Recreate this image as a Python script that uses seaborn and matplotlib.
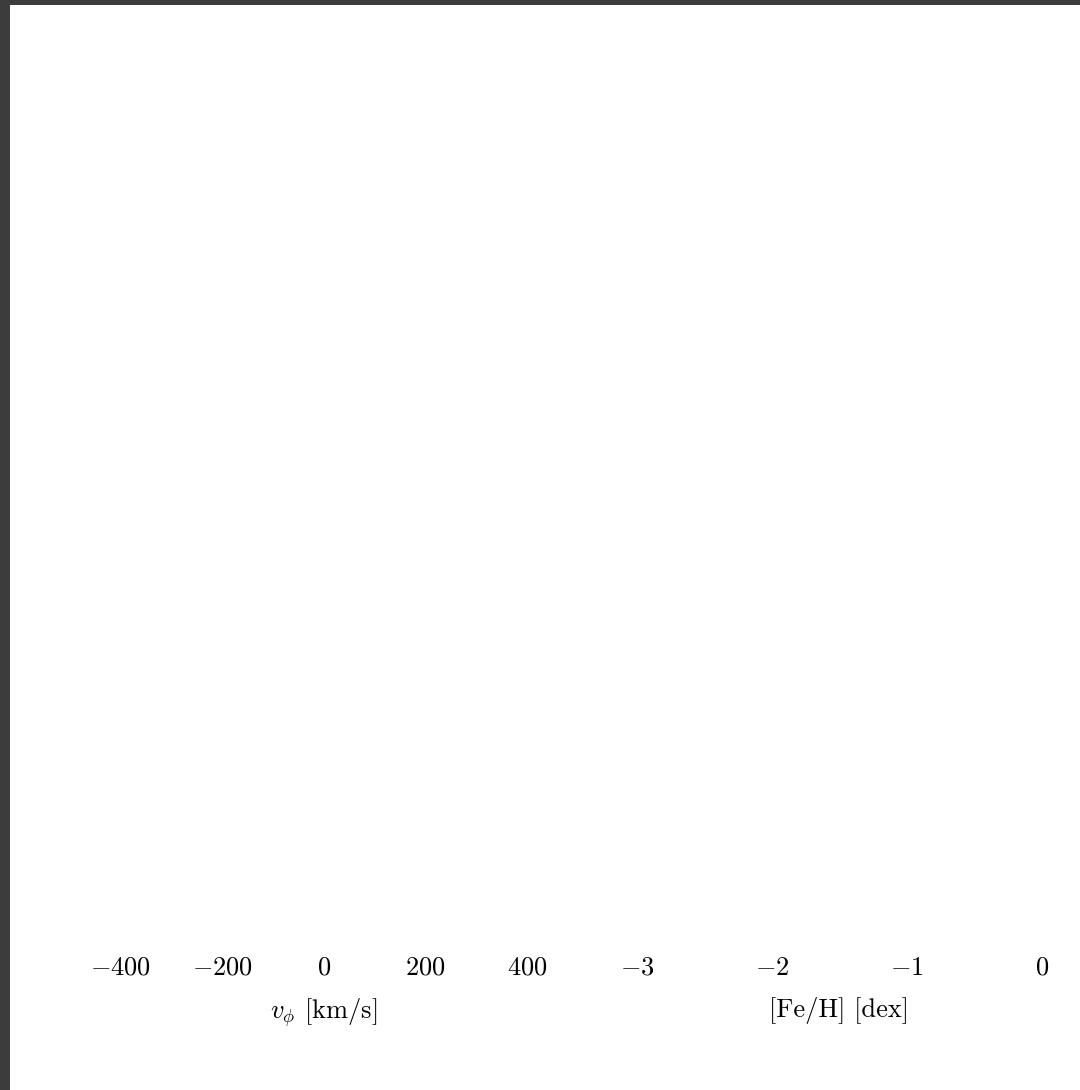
import matplotlib
matplotlib.use("Agg")
import matplotlib.pyplot as plt
import seaborn as sns
import pandas as pd
from matplotlib.patches import Rectangle

# Data (the panels in the reference carry no visible marks, only axes text)
vphi_ticks = [-400, -200, 0, 200, 400]
feh_ticks = [-3, -2, -1, 0]
vphi_values = []
feh_values = []
vphi_label = r"$v_\phi$ [km/s]"
feh_label = "[Fe/H] [dex]"

sns.set_theme(style="white")
plt.rcParams["font.family"] = ["serif"]
plt.rcParams["font.serif"] = ["cmr10", "DejaVu Serif"]
plt.rcParams["mathtext.fontset"] = "cm"
plt.rcParams["axes.unicode_minus"] = True
plt.rcParams["text.color"] = "black"
plt.rcParams["axes.labelcolor"] = "black"
plt.rcParams["xtick.color"] = "black"

W, H = 1080, 1090
fig = plt.figure(figsize=(W / 100, H / 100), dpi=100, facecolor="#3c3c3c")
fig.patches.append(Rectangle((10 / W, 0), 1 - 10 / W, (H - 5) / H,
                             transform=fig.transFigure, facecolor="white",
                             edgecolor="none", zorder=-10))

bottom = (H - 945) / H
top = (H - 8) / H
ax1 = fig.add_axes([70 / W, bottom, (578 - 70) / W, top - bottom])
ax2 = fig.add_axes([598 / W, bottom, (1080 - 598) / W, top - bottom])
ax1.set_zorder(5)
ax2.set_zorder(5)

df1 = pd.DataFrame({"vphi": pd.Series(vphi_values, dtype=float)})
df2 = pd.DataFrame({"feh": pd.Series(feh_values, dtype=float)})
sns.histplot(data=df1, x="vphi", ax=ax1)
sns.histplot(data=df2, x="feh", ax=ax2)

# axis ranges derived from tick pixel positions in the reference
ax1.set_xlim(-500, 500)
ax2.set_xlim(-3 - 39 / 135, 38 / 135)

for ax, ticks, lab in [(ax1, vphi_ticks, vphi_label), (ax2, feh_ticks, feh_label)]:
    ax.patch.set_alpha(0)
    ax.set_xticks(ticks)
    ax.set_xticklabels([r"$%d$" % t if t >= 0 else r"$-%d$" % (-t) for t in ticks],
                       fontsize=19, color="black")
    ax.tick_params(axis="x", length=0, pad=8, colors="black")
    ax.set_yticks([])
    ax.set_ylabel("")
    ax.set_xlabel(lab, fontsize=19, labelpad=12, color="black")
    sns.despine(ax=ax, left=True, bottom=True)

fig.savefig("out.png", dpi=100, facecolor=fig.get_facecolor())
